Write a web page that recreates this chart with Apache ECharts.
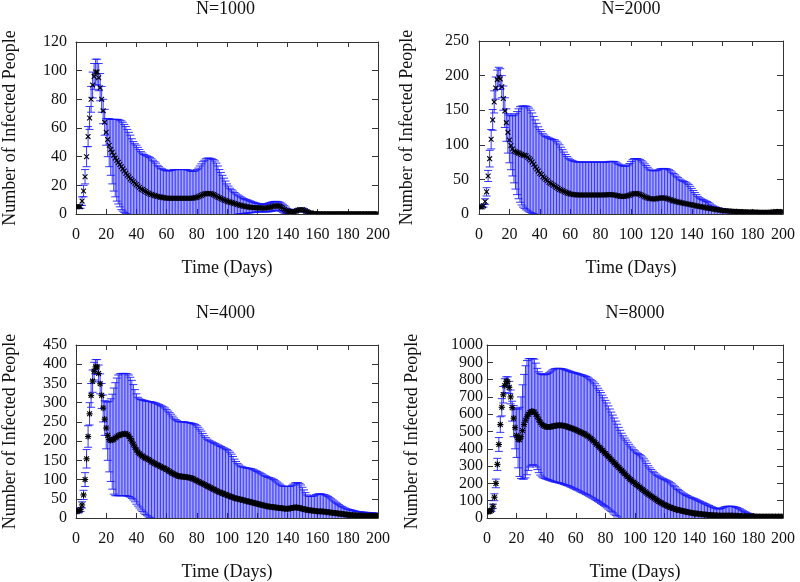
<!DOCTYPE html>
<html><head><meta charset="utf-8">
<script src="https://cdn.jsdelivr.net/npm/echarts@6/dist/echarts.min.js"></script>
<style>html,body{margin:0;padding:0;background:#fff}#c{width:800px;height:582px}</style>
</head><body><div id="c"></div>
<script>
const _ = null; // lower whisker below the axis (clipped)
const days = Array.from({length: 201}, (v, i) => i);
const titles = ['N=1000', 'N=2000', 'N=4000', 'N=8000'];
const yMax = [120, 250, 450, 1000];
const yStep = [20, 50, 50, 100];

// ---------- N=1000 ----------
const mean1000 = [
5,5,5,5,9,16,26,40,54,67,
80,90,96,99,99,95,88,80,72,64,
57,52,48,45,43,41,39,37.5,36,34.5,
33,31.5,30,28.5,27,26,24.5,23.5,22.5,21.5,
20.5,19.5,18.5,17.5,17,16.3,15.7,15,14.5,14,
13.6,13.2,12.8,12.5,12.2,12,11.8,11.6,11.4,11.2,
11.1,11,11,11,11,11,11,11,11,11,
11,11,11,11,11,11,11,11,11.2,11.4,
11.6,12,12.5,13,13.5,14,14.2,14.3,14.3,14.2,
14,13.5,13,12.4,11.8,11.3,10.8,10.3,9.8,9.4,
9,8.6,8.3,8,7.6,7.3,7,6.6,6.3,6,
5.7,5.5,5.3,5.1,4.9,4.7,4.6,4.5,4.4,4.4,
4.4,4.3,4.3,4.2,4.2,4.1,4.2,4.4,4.6,4.9,
5.2,5.5,5.7,5.8,5.6,5.3,4.7,4,3.2,2.5,
2,1.7,1.6,1.6,1.7,1.9,2.2,2.6,3,3.1,
3,2.6,2.1,1.5,1.1,0.8,0.6,0.4,0.3,0.2,
0.2,0.2,0.2,0.1,0.1,0.1,0.1,0.1,0.1,0.1,
0.1,0.1,0.1,0.1,0.1,0.1,0.1,0.1,0.1,0.1,
0.1,0.1,0.1,0.1,0.1,0.1,0.1,0.1,0.1,0.1,
0.1,0.1,0.1,0.1,0.1,0.1,0.1,0.1,0.1,0.1,
0.1];
const high1000 = [
6,6,6,6,12,20,31,47,61,75,
89,99,105,108,108,105,98,89,80,73,
66.5,66.5,66.5,66,66,66,66,66,66,65.5,
65,64,62.5,61,59,57,55,52.5,50.5,49,
48,46.5,45,43.5,42.5,41.5,41,40.5,40,39.5,
38.5,37.5,36.5,35.5,34,33,32,31.5,31,30.5,
30.2,30,30.2,30.5,30.7,31,31,31,31,31,
31,31,31,31,30.8,30.5,30,29.7,29.8,30.2,
31,32,33.5,35,36.5,37.5,38.5,39,39,38.8,
38.5,38,37,35.5,33.5,31,29,27,25,23,
21,19.5,18,17,16,15,14,13.3,12.6,12,
11.3,10.8,10.3,10,9.6,9.2,8.8,8.4,8,7.7,
7.4,7.2,7,6.9,6.8,6.8,7,7.4,7.8,8.1,
8.4,8.7,8.8,8.8,8.6,8.2,7.6,6.8,5.8,4.8,
3.8,3.2,2.8,2.6,2.6,2.8,3.1,3.5,3.9,4.1,
4,3.6,3,2.3,1.7,1.3,1,0.7,0.5,0.4,
0.3,0.3,0.3,0.3,0.3,0.3,0.3,0.3,0.3,0.3,
0.3,0.3,0.3,0.3,0.3,0.3,0.3,0.3,0.3,0.3,
0.3,0.3,0.3,0.3,0.3,0.3,0.3,0.3,0.3,0.3,
0.3,0.3,0.3,0.3,0.3,0.3,0.3,0.3,0.3,0.3,
0.3];
const low1000 = [
4,4,4,4,6,12,21,33,47,59,
71,81,87,90,90,86,79,71,63,55,
48,40,33,27,21,16,12,9,7,5,
3,2,1,0.3,_,_,_,_,_,_,
_,_,_,_,_,_,_,_,_,_,
_,_,_,_,_,_,_,_,_,_,
_,_,_,_,_,_,_,_,_,_,
_,_,_,_,_,_,_,_,_,_,
_,_,_,_,_,_,_,_,_,_,
_,_,_,_,_,_,_,_,_,_,
_,_,_,_,_,_,_,_,0.1,0.2,
0.3,0.4,0.5,0.6,0.7,0.8,0.9,1,1.2,1.3,
1.4,1.5,1.5,1.5,1.5,1.5,1.5,1.5,1.6,1.8,
2,2.2,2.4,2.6,2.6,2.4,1.8,1.2,0.6,0.2,
0.2,0.3,0.4,0.6,0.8,1,1.3,1.7,2,2.1,
2,1.6,1.2,0.7,0.5,0.3,0.2,0.1,0.1,0];

// ---------- N=2000 ----------
const mean2000 = [
10,10,10,12,18,32,55,80,108,136,
162,182,194,198,195,184,167,149,132,118,
107,99,94,91,90,89,88,87,86,85,
85,84,82,80,78,75,72,68,65,62,
59,57,54,52,50,48,46,44.5,43,41.5,
40,38.5,37,35.5,34.5,33.5,32.5,31.5,30.5,29.8,
29,28.5,28,27.8,27.6,27.5,27.5,27.5,27.5,27.5,
27.5,27.5,27.5,27.5,27.5,27.5,27.5,27.5,27.5,27.5,
27.5,27.5,27.5,27.6,27.7,27.8,28,28,27.8,27.5,
27,26.5,26,25.5,25.2,25.3,25.6,26,26.5,27.2,
28,28.8,29.4,29.6,29.5,29,28.2,27.2,26,25,
24,23.2,22.5,22,21.7,21.6,21.8,22.2,22.7,23.1,
23.3,23.3,23.1,22.7,22.1,21.3,20.5,19.7,19,18.4,
17.8,17.3,16.8,16.3,15.8,15.3,14.9,14.5,14.1,13.7,
13.2,12.7,12.2,11.7,11.2,10.8,10.4,10,9.6,9.2,
8.8,8.4,8,7.6,7.2,6.8,6.4,6,5.7,5.4,
5.1,4.9,4.7,4.5,4.3,4.1,4,3.9,3.8,3.7,
3.6,3.5,3.4,3.3,3.2,3.1,3,2.9,2.9,2.8,
2.8,2.7,2.7,2.6,2.6,2.5,2.5,2.4,2.4,2.3,
2.3,2.4,2.6,2.9,3.2,3.4,3.5,3.5,3.4,3.3,
3.2];
const high2000 = [
11,11,11,14,22,38,63,92,122,151,
178,198,208,212,210,200,185,168,152,145,
143,142,142,143,145,148,152,155,156,156,
156,156,155,153,150,146,141,136,131,126,
122,119,116,114,112,111,110,109,108,107.5,
107,105,102.5,100,96.5,93,89.5,86,83,80.5,
78.5,77.5,76.5,76,75.5,75,75,75,75,75,
75,75,75,75,75,75,75,75,75,75,
75,75,75,75,75,75.5,76,76,76,76,
75,73.5,72,71,70,69,69,69.5,71,73,
76,78.5,80,80,80,79.5,78.5,77,75,72.5,
70,67.5,65,63.5,62.8,62.5,62.5,63,64,65,
65.5,65.8,65.8,65.5,65,64,62.5,60.5,58.5,56.5,
54.5,52.5,50.5,49,48,47,46,44.5,42.5,40,
37,34,31,28,25.5,23.5,22,21,20,19,
18,16.5,14.5,13,11.5,10.5,9.7,9,8.3,7.8,
7.3,7,6.7,6.4,6.1,5.8,5.6,5.4,5.2,5,
4.8,4.7,4.6,4.5,4.4,4.4,4.3,4.2,4.1,4,
3.9,3.8,3.7,3.6,3.5,3.4,3.3,3.3,3.2,3.2,
3.1,3.4,3.8,4.2,4.6,4.8,5,5,4.9,4.8,
4.7];
const low2000 = [
9,9,9,10,14,26,47,68,94,121,
146,166,180,184,180,168,150,125,105,88,
74,64,55,45,36,28,22,17,13,10,
8,6,4.5,3,2,1,0.3];

// ---------- N=4000 ----------
const mean4000 = [
18,18,18,22,34,60,100,154,212,271,
319,356,382,393,393,376,349,319,286,257,
234,215,204,202,203,205,208,211,214,216,
217,218,219,219,217,213,207,200,192,184,
177,171,167,164,161,158,156,154,152,150,
146,144,142,140,138,136,134,132,130,128,
126,123,121,118,116,114,112,110,109,108,
108,107,107,106,106,105,104,103,101,99,
97,95,93,91,89,87,85,83,81,79,
77,75,73,71,69,67,65.5,64,62.5,61,
59.5,58,56.5,55,53.5,52,51,50,49,48,
47,46,45,44,43,42,41,40,39,38,
37,36,35,34,33,32,31,30,29.5,29,
28.5,28,27.5,27,26.5,26,25.5,25,24.5,24,
24,24.5,25,26,27,27.5,27.5,27,26,25,
24,23,22,21,20.5,20,19.5,19,18.5,18,
17.5,17.5,17,17,16.5,16,15.5,15,14.5,14,
13.5,13,12.5,12,11.5,11,10.5,10,9.5,9,
8.5,8,7.7,7.4,7.1,6.8,6.5,6.3,6.1,6,
5.9,5.8,5.7,5.6,5.5,5.5,5.5,5.5,5.5,5.5,
5.5];
const high4000 = [
22,22,22,27,42,72,118,178,240,300,
350,385,405,412,412,398,375,350,320,305,
302,302,304,310,322,338,352,364,372,375,
376,376,376,376,375,372,366,358,347,334,
323,314,310,308,307,306,305,304,303,303,
302,301,300,298.5,297,295,293,291,289,286,
282,278,274,270,265,260,256,253,251,250,
250,250,250,249,248,248,247,246,245,243,
240,236,231,226,220,214,209,205,202,200,
198,196,194,192,190,188,186,184,182,180,
178,175,171,166,160,153,147,142,138,135,
133,132,131,130,129.5,129,128,127,125,123,
121,119,117,115,112,110,108,106,105,104,
102,100,97,94,91,88,85,83,82,82,
82,82,83,85,88,91,92,92,90,86,
80,73,66,60,57,56,56,57,59,61,
62,63,63,62,61,60,58,56,53,50,
47,44,41,38,35,32,30,28,26,24,
23,22,21,20,19,18,17,16.5,16,15.5,
15,15,14.5,14.5,14,14,13.5,13,12.5,12,
11];
const low4000 = [
14,14,14,17,26,48,82,130,184,242,
288,327,359,374,374,354,323,285,250,215,
180,150,120,95,75,62,58,58,58,58,
58,58,58,58,57,56,54,51,47,42,
36,31,26,21,17,13,9,6,3,1];

// ---------- N=8000 ----------
const mean8000 = [
38,38,38,45,68,120,200,310,425,540,
640,712,765,790,788,755,700,638,577,522,
476,455,453,470,505,540,565,585,600,610,
616,616,612,600,585,568,553,542,535,530,
527,526,526,527,529,531,533,535,536,536,
536,535,533,531,528,525,522,519,516,513,
509,505,501,497,493,489,485,480,474,468,
461,453,445,436,427,418,409,400,391,382,
373,364,355,346,337,328,319,310,301,292,
283,274,265,256,247,238,230,222,214,207,
200,193,186,179,172,165,158,151,144,138,
132,126,120,114,108,102,96,91,86,81,
76,72,68,64,61,58,55,52,49,47,
45,43,41,39,37,35,33,31.5,30,28.5,
27,26,25,24,23,22,21,20,19,18,
17,16.5,16,15.5,15,14.5,14,14,13.5,13.5,
13.5,13.5,13.5,14,14,14,13.5,13,12.5,12,
11.5,11,10.5,10,9.7,9.4,9.1,8.8,8.5,8.3,
8.1,8,7.9,7.8,7.7,7.7,7.7,7.7,7.7,7.7,
7.7,7.7,7.7,7.7,7.7,7.7,7.7,7.7,7.7,7.7,
7.7];
const high8000 = [
42,42,42,52,80,140,225,345,465,585,
690,760,805,816,816,790,740,675,650,635,
630,630,640,700,770,830,880,910,920,922,
922,922,918,895,865,845,835,830,828,828,
830,835,840,848,855,860,863,865,865,865,
864,862,860,857,854,851,848,845,842,840,
838,836,833,830,828,825,822,818,814,808,
800,793,786,776,764,750,738,725,710,695,
680,665,648,630,612,595,578,560,542,524,
507,490,475,462,450,438,426,415,405,395,
388,380,373,367,360,352,342,330,316,302,
290,280,270,262,254,247,241,236,231,227,
223,219,215,210,204,197,189,181,173,165,
158,151,145,140,135,130,126,122,118,115,
112,108,104,100,96,92,88,84,80,76,
72,68,64,61,58,55,52,52,55,59,
62,65,67,68,68,68,67,65,63,60,
56,52,47,42,37,33,29,26,23,21,
19,18,17,16.5,16,15.5,15,15,14.5,14.5,
14,14,14,14,14,14,14,14,14,14,
14];
const low8000 = [
34,34,34,38,56,100,175,275,385,495,
590,665,725,765,762,720,660,560,470,400,
350,290,240,228,225,225,232,250,275,295,
305,308,305,295,280,262,248,238,232,228,
225,222,219,216,213,210,208,206,204,202,
200,197,194,191,188,185,181,177,173,169,
165,161,157,152,148,144,140,136,131,126,
121,116,111,106,101,96,90,84,78,72,
66,59,52,45,38,30,22,14,6];

const means = [mean1000, mean2000, mean4000, mean8000];
const highs = [high1000, high2000, high4000, high8000];
const lows = [low1000, low2000, low4000, low8000];
means.forEach((a, i) => { if (a.length !== 201) throw new Error('mean ' + i + ' length ' + a.length); });
highs.forEach((a, i) => { if (a.length !== 201) throw new Error('high ' + i + ' length ' + a.length); });

// ---------- layout / style ----------
const FONT = '"Liberation Serif", "Times New Roman", serif';
const FRAME = '#333333';
const BAR = '#1414ff';
const grids = [
  {left: 73, top: 42, width: 305, height: 172},
  {left: 479, top: 41, width: 304, height: 173},
  {left: 73, top: 345, width: 305, height: 173},
  {left: 487, top: 345, width: 296, height: 173}
];
const titleTop = [0, 0, 304, 304];
const yNameGap = [57, 63, 57, 66];
const yLabelMargin = [9, 10, 9, 4];

function renderErr(params, api) {
  const x = api.value(0), hi = api.value(2), lo = api.value(3);
  const cs = params.coordSys;
  const bottom = cs.y + cs.height;
  const pHi = api.coord([x, hi]);
  const hasLo = lo >= 0;
  const yLo = hasLo ? api.coord([x, lo])[1] : bottom;
  const w = 4;
  const style = {stroke: BAR, lineWidth: 1, opacity: 0.85};
  const children = [
    {type: 'line', shape: {x1: pHi[0], y1: pHi[1], x2: pHi[0], y2: yLo}, style: style},
    {type: 'line', shape: {x1: pHi[0] - w, y1: pHi[1], x2: pHi[0] + w, y2: pHi[1]}, style: style}
  ];
  if (hasLo) children.push({type: 'line', shape: {x1: pHi[0] - w, y1: yLo, x2: pHi[0] + w, y2: yLo}, style: style});
  return {type: 'group', children: children};
}
function makeMark(star) {
  return function (params, api) {
    const p = api.coord([api.value(0), api.value(1)]);
    const s = 2.4;
    const st = {stroke: '#000', lineWidth: 1.1};
    const ch = [
      {type: 'line', shape: {x1: p[0] - s, y1: p[1] - s, x2: p[0] + s, y2: p[1] + s}, style: st},
      {type: 'line', shape: {x1: p[0] - s, y1: p[1] + s, x2: p[0] + s, y2: p[1] - s}, style: st}
    ];
    if (star) {
      ch.push({type: 'line', shape: {x1: p[0] - s * 1.3, y1: p[1], x2: p[0] + s * 1.3, y2: p[1]}, style: st});
      ch.push({type: 'line', shape: {x1: p[0], y1: p[1] - s * 1.3, x2: p[0], y2: p[1] + s * 1.3}, style: st});
    }
    return {type: 'group', children: ch};
  };
}

const xAxes = [], yAxes = [], series = [], titleOpts = [];
for (let g = 0; g < 4; g++) {
  [false, true].forEach(function (top) {
    xAxes.push({
      type: 'value', gridIndex: g, position: top ? 'top' : 'bottom',
      min: 0, max: 200, interval: 20,
      axisLine: {show: true, onZero: false, lineStyle: {color: FRAME, width: 1}},
      axisTick: {show: true, inside: true, length: 5, lineStyle: {color: FRAME}},
      axisLabel: {show: !top, fontFamily: FONT, fontSize: 16, color: '#111', margin: 13,
        formatter: function (v) { return String(v); }},
      splitLine: {show: false},
      name: top ? '' : 'Time (Days)', nameLocation: 'middle', nameGap: 45,
      nameTextStyle: {fontFamily: FONT, fontSize: 18, color: '#111'}
    });
    yAxes.push({
      type: 'value', gridIndex: g, position: top ? 'right' : 'left',
      min: 0, max: yMax[g], interval: yStep[g],
      axisLine: {show: true, onZero: false, lineStyle: {color: FRAME, width: 1}},
      axisTick: {show: true, inside: true, length: 6, lineStyle: {color: FRAME}},
      axisLabel: {show: !top, fontFamily: FONT, fontSize: 16, color: '#111', margin: yLabelMargin[g],
        formatter: function (v) { return String(v); }},
      splitLine: {show: false},
      name: top ? '' : 'Number of Infected People', nameLocation: 'middle', nameGap: yNameGap[g],
      nameTextStyle: {fontFamily: FONT, fontSize: 18, color: '#111'}
    });
  });
  const errData = days.map(function (d, i) {
    const lo = lows[g][i];
    return [d, means[g][i], highs[g][i], (lo === null || lo === undefined) ? -1 : lo];
  });
  const markData = days.map(function (d, i) { return [d, means[g][i]]; });
  series.push({type: 'custom', name: titles[g] + ' range', xAxisIndex: 2 * g, yAxisIndex: 2 * g,
    clip: true, renderItem: renderErr, data: errData, z: 2, silent: true});
  series.push({type: 'custom', name: titles[g] + ' mean', xAxisIndex: 2 * g, yAxisIndex: 2 * g,
    clip: true, renderItem: makeMark(g >= 2), data: markData, z: 3, silent: true});
  titleOpts.push({text: titles[g], left: grids[g].left + grids[g].width / 2, textAlign: 'center',
    top: titleTop[g], padding: 0,
    textStyle: {fontFamily: FONT, fontSize: 18, fontWeight: 'normal', color: '#111'}});
}

const chart = echarts.init(document.getElementById('c'), null, {renderer: 'canvas'});
chart.setOption({
  animation: false,
  backgroundColor: '#ffffff',
  title: titleOpts,
  grid: grids,
  xAxis: xAxes,
  yAxis: yAxes,
  series: series
});
</script>
</body></html>
